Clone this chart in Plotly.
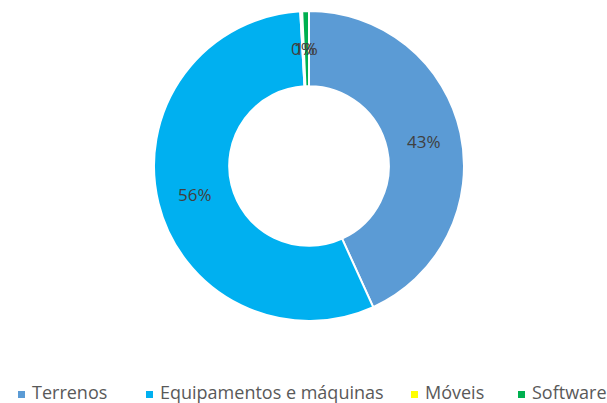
import math
import plotly.graph_objects as go

# Donut chart data (shares of investment)
categories = ["Terrenos", "Equipamentos e máquinas", "Móveis", "Software"]
values = [43.2, 55.9, 0.2, 0.7]
colors = ["#5B9BD5", "#00B0F0", "#FFFF00", "#00B050"]

FONT = "'Open Sans', Lato, sans-serif"
W, H = 607, 403

fig = go.Figure()

fig.add_trace(go.Pie(
    labels=categories,
    values=values,
    hole=0.515,
    sort=False,
    direction="clockwise",
    rotation=0,
    marker=dict(colors=colors, line=dict(color="white", width=2)),
    textinfo="none",
    domain=dict(x=[154 / W, 464 / W], y=[82 / H, 392 / H]),
    showlegend=False,
))

# Data labels placed at the middle of the ring, computed from the values
cx, cy = 309, 166
r_mid = 117.5
total = sum(values)
cum = 0.0
for v in values:
    mid = (cum + v / 2) / total * 2 * math.pi
    cum += v
    px_ = cx + r_mid * math.sin(mid)
    py_ = cy - r_mid * math.cos(mid)
    fig.add_annotation(
        x=px_ / W, y=1 - py_ / H, xref="paper", yref="paper",
        xanchor="center", yanchor="middle",
        text=f"{round(v / total * 100)}%", showarrow=False,
        font=dict(family=FONT, size=17, color="#404040"),
    )

# Legend drawn by hand so it stays on one line (clipped at the right like the original)
legend_x = [18, 146, 411, 518]
legend_y = 394.5
for name, col, lx in zip(categories, colors, legend_x):
    fig.add_shape(
        type="rect", xref="paper", yref="paper",
        x0=lx / W, x1=(lx + 7) / W,
        y0=1 - (legend_y + 3.5) / H, y1=1 - (legend_y - 3.5) / H,
        fillcolor=col, line=dict(width=0),
    )
    fig.add_annotation(
        x=(lx + 13) / W, y=1 - (legend_y - 3) / H, xref="paper", yref="paper",
        xanchor="left", yanchor="middle", text=name, showarrow=False,
        borderpad=0,
        font=dict(family=FONT, size=18, color="#595959"),
    )

fig.update_layout(
    width=W, height=H,
    margin=dict(l=0, r=0, t=0, b=0),
    paper_bgcolor="white",
    plot_bgcolor="white",
    font=dict(family=FONT, size=16, color="#595959"),
)

# drop the default page margin so the figure sits at the window's corner
fig.write_html("out.html", config={"displayModeBar": False},
               post_script="document.body.style.margin='0';")
